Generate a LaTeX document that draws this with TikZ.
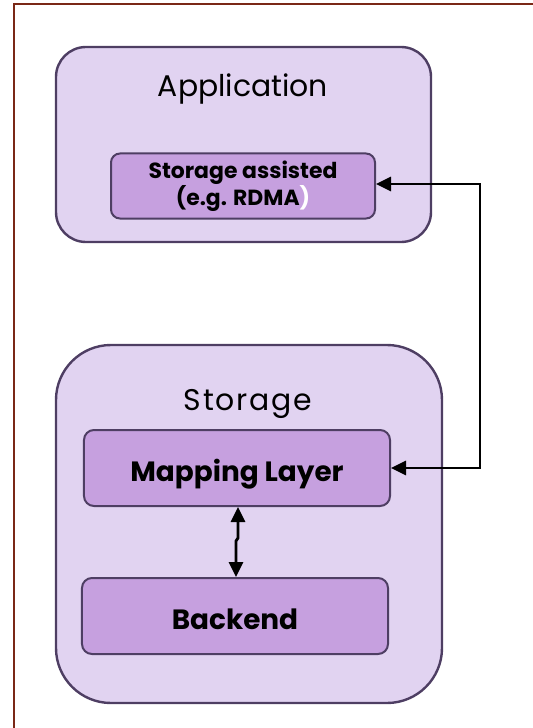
\documentclass[tikz,border=0pt]{standalone}
\usepackage{fontspec}
\setmainfont{Poppins}
\usetikzlibrary{arrows.meta}
\definecolor{outerfill}{HTML}{E1D3F1}
\definecolor{innerfill}{HTML}{C6A0DF}
\definecolor{boxline}{HTML}{4E3E63}
\definecolor{framecol}{HTML}{7A2816}
\tikzset{
  outerbox/.style={draw=boxline, fill=outerfill, line width=2.4bp, inner sep=0pt},
  innerbox/.style={draw=boxline, fill=innerfill, line width=2bp, inner sep=0pt,
    align=center, font=\bfseries},
  layerbox/.style={innerbox, rounded corners=10bp, minimum width=306bp, minimum height=76bp,
    text height=26bp, text depth=0pt, font=\bfseries\fontsize{28}{32}\selectfont},
  title/.style={inner sep=0pt, anchor=base, font=\fontsize{30}{32}\selectfont},
  tip/.tip={Triangle[length=15bp,width=14bp]},
  link/.style={line width=2.8bp, tip-tip},
}
\begin{document}
\begin{tikzpicture}[x=1bp, y=-1bp]
\useasboundingbox (0,0) rectangle (533,728);
% outer frame
\draw[framecol, line width=2.6bp] (14,730) -- (14,4) -- (535,4);

% application group
\node[outerbox, rounded corners=30bp, minimum width=375bp, minimum height=195bp] (app) at (243.5,144.5) {};
\node[title] (applabel) at (243,97) {Application};
\node[innerbox, rounded corners=9bp, minimum width=264bp, minimum height=65bp,
  font=\bfseries\fontsize{22}{26}\selectfont] (assist) at (243,186)
  {Storage assisted\\(e.g. RDMA\textcolor{white}{)}};

% storage group
\node[outerbox, rounded corners=55bp, minimum width=386bp, minimum height=358bp] (store) at (249,524) {};
\node[title, font=\fontsize{30}{32}\selectfont\addfontfeatures{LetterSpace=6}] (storelabel) at (248,410) {Storage};
\node[layerbox] (map) at (237,468) {Mapping Layer};
\node[layerbox] (back) at (235,616) {Backend};

% connectors
\coordinate (turn) at (480,184);
\draw[link] (assist.east |- turn) -- (turn) |- (map.east);
\draw[link] (map.south -| 238,0) -- (238,538) -- (236,541) -- (back.north -| 236,0);
\end{tikzpicture}
\end{document}
